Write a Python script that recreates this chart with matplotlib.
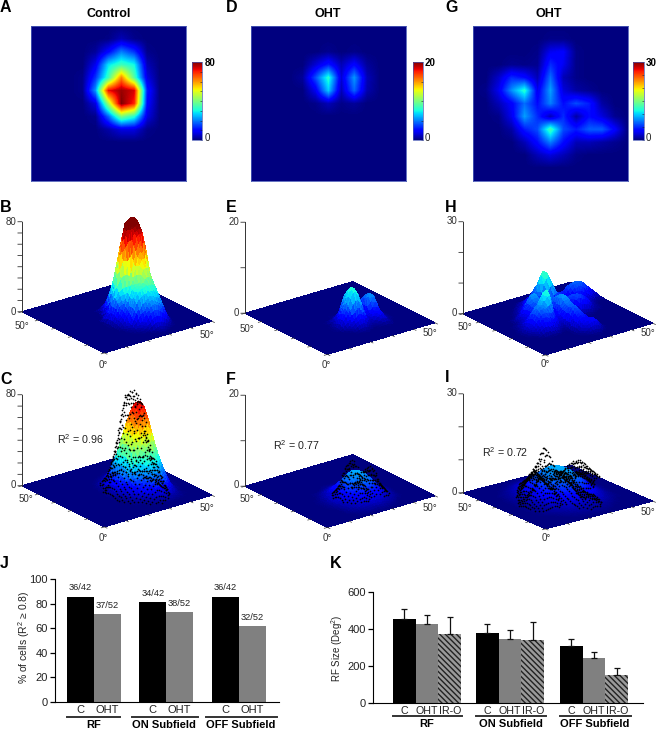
import numpy as np
import matplotlib
matplotlib.use('Agg')
import matplotlib.pyplot as plt
from matplotlib.lines import Line2D
from matplotlib.tri import Triangulation, UniformTriRefiner, CubicTriInterpolator
from mpl_toolkits.mplot3d import proj3d

plt.rcParams['font.family'] = ['Liberation Sans', 'DejaVu Sans']
plt.rcParams['mathtext.fontset'] = 'custom'
plt.rcParams['mathtext.rm'] = 'Liberation Sans'
plt.rcParams['mathtext.default'] = 'regular'
plt.rcParams['hatch.linewidth'] = 1.0

W, H = 656, 729

# receptive field maps (13 x 13, first row = top of map)
control_raw = [
    [0, 0, 0, 0, 0, 0, 0, 0, 0, 0, 0, 0, 0],
    [0, 0, 0, 0, 0, 0, 0.5, 4, 1, 0, 0, 0, 0],
    [0, 0, 0, 0, 0, 2, 10, 20, 14, 1, 0, 0, 0],
    [0, 0, 0, 0, 0, 8, 28, 34, 30, 4, 0, 0, 0],
    [0, 0, 0, 0, 1, 14, 34, 62, 36, 7, 0, 0, 0],
    [0, 0, 0, 0, 1, 22, 72, 78, 74, 12, 0, 0, 0],
    [0, 0, 0, 0, 0, 7, 44, 80, 70, 10, 0, 0, 0],
    [0, 0, 0, 0, 0, 1, 18, 40, 32, 7, 0, 0, 0],
    [0, 0, 0, 0, 0, 0, 3, 7, 7, 1, 0, 0, 0],
    [0, 0, 0, 0, 0, 0, 0, 0, 0, 0, 0, 0, 0],
    [0, 0, 0, 0, 0, 0, 0, 0, 0, 0, 0, 0, 0],
    [0, 0, 0, 0, 0, 0, 0, 0, 0, 0, 0, 0, 0],
    [0, 0, 0, 0, 0, 0, 0, 0, 0, 0, 0, 0, 0],
]
oht1_raw = [
    [0, 0, 0, 0, 0, 0, 0, 0, 0, 0, 0, 0, 0],
    [0, 0, 0, 0, 0, 0, 0, 0, 0, 0, 0, 0, 0],
    [0, 0, 0, 0, 0, 0, 0.3, 0, 0.2, 0, 0, 0, 0],
    [0, 0, 0, 0, 0, 1.5, 3, 1, 2.5, 0.5, 0, 0, 0],
    [0, 0, 0, 0, 0.5, 4, 8, 1.5, 5.5, 1, 0, 0, 0],
    [0, 0, 0, 0, 0, 2, 6.5, 1, 4.5, 0.8, 0, 0, 0],
    [0, 0, 0, 0, 0, 0.2, 1, 0.2, 0.5, 0, 0, 0, 0],
    [0, 0, 0, 0, 0, 0, 0, 0, 0, 0, 0, 0, 0],
    [0, 0, 0, 0, 0, 0, 0, 0, 0, 0, 0, 0, 0],
    [0, 0, 0, 0, 0, 0, 0, 0, 0, 0, 0, 0, 0],
    [0, 0, 0, 0, 0, 0, 0, 0, 0, 0, 0, 0, 0],
    [0, 0, 0, 0, 0, 0, 0, 0, 0, 0, 0, 0, 0],
    [0, 0, 0, 0, 0, 0, 0, 0, 0, 0, 0, 0, 0],
]
oht2_raw = [
    [0, 0, 0, 0, 0, 0, 0, 0, 0, 0, 0, 0, 0],
    [0, 0, 0, 0, 0, 0, 0.3, 0.3, 0, 0, 0, 0, 0],
    [0, 0, 0, 0, 0, 0.3, 3, 3.5, 0.3, 0, 0, 0, 0],
    [0, 0, 0, 0.5, 0.3, 0.5, 5, 3, 0.3, 0, 0, 0, 0],
    [0, 0, 2, 5, 4, 1.5, 7, 1.5, 0.3, 0, 0, 0, 0],
    [0, 0.3, 3, 8, 12, 3, 8.5, 2.5, 1, 0.5, 0, 0, 0],
    [0, 0, 1.5, 3.5, 7, 4, 7.5, 4, 6, 4.5, 1, 0, 0],
    [0, 0, 0.3, 3, 8.5, 5, 1.5, 5, 1, 4, 2.5, 0.5, 0],
    [0, 0, 0, 1, 4.5, 6, 13, 6, 4.5, 6.5, 6.5, 3.5, 0],
    [0, 0, 0, 0, 1.5, 4, 7.5, 4, 1.5, 1.5, 1, 0.5, 0],
    [0, 0, 0, 0, 0, 1.5, 2.5, 1.5, 0.3, 0, 0, 0, 0],
    [0, 0, 0, 0, 0, 0, 0, 0, 0, 0, 0, 0, 0],
    [0, 0, 0, 0, 0, 0, 0, 0, 0, 0, 0, 0, 0],
]

# fitted surfaces of panels C, F, I, same grid
control_fit = [
    [0, 0, 0, 0, 0, 0, 0, 0, 0, 0, 0, 0, 0],
    [0, 0, 0, 0, 0, 0, 0, 0.5, 1, 0.5, 0, 0, 0],
    [0, 0, 0, 0, 0, 0, 1.5, 6, 8, 5, 1, 0, 0],
    [0, 0, 0, 0, 0, 1, 8, 20, 26, 16, 3, 0, 0],
    [0, 0, 0, 0, 0, 2, 15, 40, 52, 32, 6, 0.5, 0],
    [0, 0, 0, 0, 0, 4, 24, 60, 75, 48, 9, 1, 0],
    [0, 0, 0, 0, 0, 3, 22, 55, 70, 44, 8, 1, 0],
    [0, 0, 0, 0, 0, 2, 12, 32, 42, 26, 5, 0.5, 0],
    [0, 0, 0, 0, 0, 0.5, 4, 12, 16, 10, 2, 0, 0],
    [0, 0, 0, 0, 0, 0, 0.5, 2, 3, 2, 0.3, 0, 0],
    [0, 0, 0, 0, 0, 0, 0, 0, 0, 0, 0, 0, 0],
    [0, 0, 0, 0, 0, 0, 0, 0, 0, 0, 0, 0, 0],
    [0, 0, 0, 0, 0, 0, 0, 0, 0, 0, 0, 0, 0],
]
oht1_fit = [
    [0, 0, 0, 0, 0, 0, 0, 0, 0, 0, 0, 0, 0],
    [0, 0, 0, 0, 0.3, 0.8, 1, 0.8, 0.4, 0, 0, 0, 0],
    [0, 0, 0, 0, 1, 2.3, 3, 2.5, 1.3, 0.4, 0, 0, 0],
    [0, 0, 0, 0.3, 1.6, 3.9, 5.3, 4.5, 2.3, 0.7, 0, 0, 0],
    [0, 0, 0, 0.4, 1.8, 4.3, 6, 5, 2.6, 0.8, 0, 0, 0],
    [0, 0, 0, 0.3, 1.3, 3, 4.2, 3.5, 1.8, 0.5, 0, 0, 0],
    [0, 0, 0, 0, 0.6, 1.3, 1.8, 1.5, 0.8, 0.2, 0, 0, 0],
    [0, 0, 0, 0, 0, 0.3, 0.5, 0.4, 0.2, 0, 0, 0, 0],
    [0, 0, 0, 0, 0, 0, 0, 0, 0, 0, 0, 0, 0],
    [0, 0, 0, 0, 0, 0, 0, 0, 0, 0, 0, 0, 0],
    [0, 0, 0, 0, 0, 0, 0, 0, 0, 0, 0, 0, 0],
    [0, 0, 0, 0, 0, 0, 0, 0, 0, 0, 0, 0, 0],
    [0, 0, 0, 0, 0, 0, 0, 0, 0, 0, 0, 0, 0],
]
oht2_fit = [
    [0, 0, 0, 0, 0, 0, 0, 0, 0, 0, 0, 0, 0],
    [0, 0, 0, 0, 0.3, 0.5, 0.6, 0.5, 0.3, 0, 0, 0, 0],
    [0, 0, 0, 0.4, 1, 1.6, 1.8, 1.6, 1, 0.4, 0, 0, 0],
    [0, 0, 0.3, 1, 2.3, 3.4, 3.9, 3.4, 2.3, 1, 0.3, 0, 0],
    [0, 0, 0.5, 1.7, 3.7, 5.6, 6.4, 5.6, 3.7, 1.7, 0.5, 0, 0],
    [0, 0, 0.7, 2.3, 5, 7.5, 8.5, 7.5, 5, 2.3, 0.7, 0, 0],
    [0, 0, 0.8, 2.5, 5.3, 8, 9, 8, 5.3, 2.5, 0.8, 0, 0],
    [0, 0, 0.7, 2.3, 5, 7.5, 8.5, 7.5, 5, 2.3, 0.7, 0, 0],
    [0, 0, 0.5, 1.7, 3.7, 5.6, 6.4, 5.6, 3.7, 1.7, 0.5, 0, 0],
    [0, 0, 0.3, 1, 2.3, 3.4, 3.9, 3.4, 2.3, 1, 0.3, 0, 0],
    [0, 0, 0, 0.4, 1, 1.6, 1.8, 1.6, 1, 0.4, 0, 0, 0],
    [0, 0, 0, 0, 0.3, 0.5, 0.6, 0.5, 0.3, 0, 0, 0, 0],
    [0, 0, 0, 0, 0, 0, 0, 0, 0, 0, 0, 0, 0],
]

# bars J
j_groups = ['RF', 'ON Subfield', 'OFF Subfield']
j_control = [85.7, 81.0, 85.7]
j_oht = [71.2, 73.1, 61.5]
j_control_labels = ['36/42', '34/42', '36/42']
j_oht_labels = ['37/52', '38/52', '32/52']

# bars K
k_control = [455, 377, 308]
k_oht = [428, 348, 243]
k_iro = [373, 341, 152]
k_control_err = [54, 49, 36]
k_oht_err = [45, 47, 31]
k_iro_err = [91, 96, 35]

fig = plt.figure(figsize=(W / 100, H / 100), dpi=100)


def px_text(x, y, s, **kw):
    kw.setdefault('ha', 'center')
    kw.setdefault('va', 'center')
    fig.text(x / W, 1 - y / H, s, **kw)


def px_rect(x0, y0, x1, y1):
    return [x0 / W, 1 - y1 / H, (x1 - x0) / W, (y1 - y0) / H]


def px_line(x0, x1, y, lw=1.4):
    fig.add_artist(Line2D([x0 / W, x1 / W], [1 - y / H, 1 - y / H], color='#333333', lw=lw))


def heat_panel(grid, vmax, step, rect, cbar_rect, cbar_label_x):
    ax = fig.add_axes(px_rect(*rect))
    half = 25 / 12
    im = ax.imshow(grid, cmap='jet', vmin=0, vmax=vmax, interpolation='bilinear',
                   extent=(-half, 50 + half, 50 + half, -half), aspect='auto')
    ax.set_xlim(0, 50)
    ax.set_ylim(50, 0)
    ax.set_xticks([])
    ax.set_yticks([])
    for s in ax.spines.values():
        s.set_color('#4a5ab5')
        s.set_linewidth(0.6)
    cax = fig.add_axes(px_rect(*cbar_rect))
    cb = fig.colorbar(im, cax=cax)
    cb.set_ticks(np.arange(0, vmax + 1, step))
    cb.set_ticklabels([])
    cax.tick_params(length=1.5, width=0.4, direction='in', color='#222222')
    cb.outline.set_edgecolor('#4a5ab5')
    cb.outline.set_linewidth(0.5)
    px_text(cbar_label_x, cbar_rect[1] + 1, str(vmax), fontsize=7, fontweight='bold', ha='left')
    px_text(cbar_label_x, cbar_rect[3] - 2, '0', fontsize=7, ha='left', color='#222222')


def refine(grid, subdiv):
    n = np.array(grid, dtype=float)
    deg = np.arange(13) * 50 / 12
    xx, yy = np.meshgrid(deg, deg)
    tri = Triangulation(xx.ravel(), yy.ravel())
    interp = CubicTriInterpolator(tri, n.ravel(), kind='geom')
    tri2, z2 = UniformTriRefiner(tri).refine_field(n.ravel(), triinterpolator=interp, subdiv=subdiv)
    return tri2, np.clip(z2, 0, None)


def corner_px(ax, x, y, z):
    xp, yp, _ = proj3d.proj_transform(x, y, z, ax.get_proj())
    return ax.transData.transform((xp, yp))


def surf_panel(grid, zmax, zstep, left, bottom, right, zpx, elev, dots=None, off_l=(0, 14), off_r=(-5, 13), off_b=(0, 11)):
    ax = fig.add_axes([0.1, 0.1, 300 / W, 300 / H], projection='3d', computed_zorder=False)
    ax.view_init(elev=elev, azim=-127.5)
    ax.set_proj_type('ortho')
    ax.set_xlim(0, 50)
    ax.set_ylim(0, 50)
    ax.set_zlim(0, zmax)
    span = right[0] - left[0]
    ax.set_box_aspect((1, 1, zpx / np.cos(np.radians(elev)) / (span / 1.402)))
    ax.set_axis_off()
    ax.patch.set_visible(False)

    tri2, z2 = refine(grid, 2)
    ax.plot_trisurf(tri2, z2, cmap='jet', vmin=0, vmax=zmax, linewidth=0, antialiased=False, zorder=1)

    if dots is not None:
        tri3, z3 = refine(dots, 2)
        keep = z3 > 0.025 * zmax
        ax.scatter(tri3.x[keep], tri3.y[keep], z3[keep], s=1.5, c='k', marker='o', linewidths=0,
                   depthshade=False, zorder=5)

    # axes drawn by hand, left corner is x=0, y=50
    col = '#333333'
    ax.plot([0, 0], [50, 50], [0, zmax], color=col, lw=0.7, zorder=4)
    for t in np.arange(0, zmax + 1, zstep):
        ax.plot([0, -1.2], [50, 50.9], [t, t], color=col, lw=0.6, zorder=4)
    for t in np.arange(0, 51, 10):
        ax.plot([t, t], [0, -1.5], [0, 0], color=col, lw=0.5, zorder=4)
        ax.plot([0, -1.5], [t, t], [0, 0], color=col, lw=0.5, zorder=4)

    # size and shift the axes so the base lands on the wanted pixels
    size = 300.0
    for i in range(3):
        fig.canvas.draw()
        a = corner_px(ax, 0, 50, 0)
        b = corner_px(ax, 50, 0, 0)
        size = size * span / (b[0] - a[0])
        pos = ax.get_position()
        ax.set_position([pos.x0, pos.y0, size / W, size / H])
        fig.canvas.draw()
        a = corner_px(ax, 0, 50, 0)
        b = corner_px(ax, 50, 0, 0)
        dx = (left[0] - a[0]) / W
        dy = ((H - (left[1] + right[1]) / 2) - (a[1] + b[1]) / 2) / H
        pos = ax.get_position()
        ax.set_position([pos.x0 + dx, pos.y0 + dy, size / W, size / H])

    txt = '#333333'
    px_text(left[0] - 6, left[1] - zpx, str(zmax), fontsize=7, ha='right', color=txt)
    px_text(left[0] - 6, left[1], '0', fontsize=7, ha='right', color=txt)
    px_text(left[0] + off_l[0], left[1] + off_l[1], '50°', fontsize=7, color=txt)
    px_text(right[0] + off_r[0], right[1] + off_r[1], '50°', fontsize=7, color=txt)
    px_text(bottom[0] + off_b[0], bottom[1] + off_b[1], '0°', fontsize=7, color=txt)


# heat maps
heat_panel(control_raw, 80, 10, (31, 26, 186, 181), (192, 62, 202, 140), 205)
heat_panel(oht1_raw, 20, 5, (251, 26, 406, 181), (413, 62, 423, 140), 425)
heat_panel(oht2_raw, 30, 5, (473, 26, 628, 181), (633, 62, 644, 140), 646)

# raw surfaces
surf_panel(control_raw, 80, 10, (22, 312), (103, 353), (212, 321), 90, 22.5, off_l=(0, 14), off_r=(-5, 14), off_b=(0, 12))
surf_panel(oht1_raw, 20, 10, (245, 313), (327, 355), (435, 323), 91, 22.5, off_l=(2, 16), off_r=(-5, 10), off_b=(-1, 10))
surf_panel(oht2_raw, 30, 10, (463, 313), (545, 355), (653, 324), 92, 22.5, off_l=(2, 14), off_r=(-5, 9), off_b=(0, 9))

# fitted surfaces with the raw points on top
surf_panel(control_fit, 80, 10, (22, 485), (103, 528), (212, 496), 91, 22.5, dots=control_raw, off_l=(4, 14), off_r=(-5, 12), off_b=(0, 10))
surf_panel(oht1_fit, 20, 10, (245, 485), (327, 528), (435, 497), 91, 22.5, dots=oht1_raw, off_l=(2, 14), off_r=(-5, 11), off_b=(0, 10))
surf_panel(oht2_fit, 30, 10, (463, 492), (545, 529), (653, 502), 99, 19.6, dots=oht2_raw, off_l=(2, 16), off_r=(-5, 10), off_b=(1, 9))

px_text(80, 439, 'R$^2$ = 0.96', fontsize=7.7, color='#222222')
px_text(296, 445, 'R$^2$ = 0.77', fontsize=7.7, color='#222222')
px_text(505, 452, 'R$^2$ = 0.72', fontsize=7.7, color='#222222')

# titles and panel letters
px_text(109, 14, 'Control', fontsize=9, fontweight='bold')
px_text(328, 14, 'OHT', fontsize=9, fontweight='bold')
px_text(549, 14, 'OHT', fontsize=9, fontweight='bold')
letters = {'A': (0, 7), 'D': (226, 7), 'G': (445, 7), 'B': (0, 207), 'E': (226, 207), 'H': (445, 207),
           'C': (0, 379), 'F': (226, 379), 'I': (445, 378), 'J': (0, 563), 'K': (330, 563)}
for k, (x, y) in letters.items():
    px_text(x, y, k, fontsize=11.5, fontweight='bold', ha='left')

# bars J
axj = fig.add_axes(px_rect(55, 579, 279, 702))
j_c_pos = [0.94, 3.59, 6.25]
j_o_pos = [1.93, 4.58, 7.26]
b1 = axj.bar(j_c_pos, j_control, width=1.0, color='black')
b2 = axj.bar(j_o_pos, j_oht, width=1.0, color='#808080')
axj.bar_label(b1, labels=j_control_labels, fontsize=6.7, padding=3, color='#222222')
axj.bar_label(b2, labels=j_oht_labels, fontsize=6.7, padding=3, color='#222222')
axj.set_xlim(0, 8.23)
axj.set_ylim(0, 100)
axj.set_yticks([0, 20, 40, 60, 80, 100])
axj.set_xticks(j_c_pos + j_o_pos)
axj.set_xticklabels(['C'] * 3 + ['OHT'] * 3)
axj.tick_params(axis='x', length=0, pad=2, labelsize=8, labelcolor='#222222')
axj.tick_params(axis='y', length=3.5, width=0.9, pad=1.5, labelsize=8, labelcolor='#222222')
axj.spines['top'].set_visible(False)
axj.spines['right'].set_visible(False)
px_text(24, 637, '% of cells (R$^2$ ≥ 0.8)', fontsize=7.5, rotation=90, color='#222222')
for (x0, x1), name, xc in zip([(67, 120), (132, 198), (206, 277)], j_groups, [94, 164, 241]):
    px_line(x0, x1, 717)
    px_text(xc, 725, name, fontsize=8, fontweight='bold')

# bars K
axk = fig.add_axes(px_rect(373, 592, 643, 703))
w = 22.7
k_starts = [393, 476, 560]
k_c_pos = [s + w / 2 - 373 for s in k_starts]
k_o_pos = [s + w * 1.5 - 373 for s in k_starts]
k_i_pos = [s + w * 2.5 - 373 for s in k_starts]
err_kw = dict(ecolor='#111111', elinewidth=0.9, capsize=2.5, capthick=0.9)
axk.bar(k_c_pos, k_control, width=w, color='black', yerr=[[0] * 3, k_control_err], error_kw=err_kw)
axk.bar(k_o_pos, k_oht, width=w, color='#808080', yerr=[[0] * 3, k_oht_err], error_kw=err_kw)
axk.bar(k_i_pos, k_iro, width=w, color='#9a9a9a', edgecolor='#222222', linewidth=0, hatch='\\\\\\\\\\\\',
        yerr=[[0] * 3, k_iro_err], error_kw=err_kw)
axk.set_xlim(0, 270)
axk.set_ylim(0, 600)
axk.set_yticks([0, 200, 400, 600])
axk.set_xticks(k_c_pos + k_o_pos + k_i_pos)
axk.set_xticklabels(['C'] * 3 + ['OHT'] * 3 + ['IR-O'] * 3)
axk.tick_params(axis='x', length=0, pad=2, labelsize=7.7, labelcolor='#222222')
axk.tick_params(axis='y', length=3.5, width=0.9, pad=1.5, labelsize=8, labelcolor='#222222')
axk.spines['top'].set_visible(False)
axk.spines['right'].set_visible(False)
px_text(337, 648, 'RF Size (Deg$^2$)', fontsize=7, rotation=90, color='#222222')
for (x0, x1), name, xc in zip([(393, 462), (476, 546), (560, 631)], j_groups, [427, 511, 595]):
    px_line(x0, x1, 716)
    px_text(xc, 724, name, fontsize=8, fontweight='bold')

fig.savefig('out.png', dpi=100)
